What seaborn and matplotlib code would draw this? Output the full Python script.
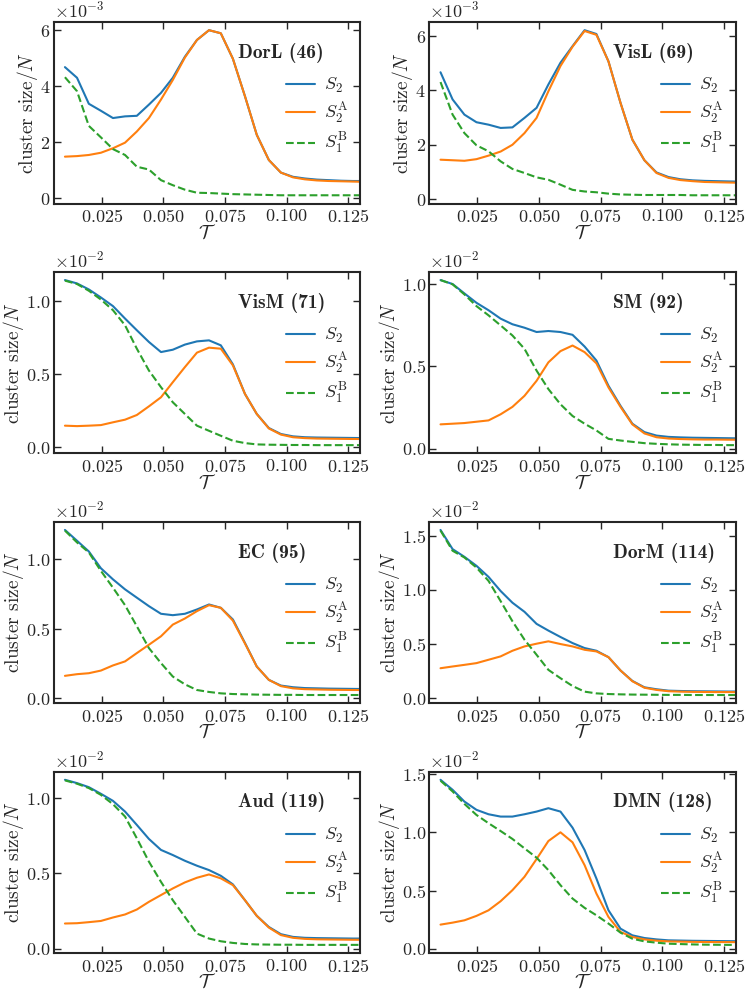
import matplotlib
matplotlib.use("Agg")
import matplotlib.pyplot as plt
import matplotlib.ticker as mticker
import seaborn as sns
import numpy as np
import pandas as pd

# temperature grid (last point lies past the visible limit)
T = [0.0100, 0.0149, 0.0197, 0.0246, 0.0295, 0.0344, 0.0392, 0.0441, 0.0490,
     0.0538, 0.0587, 0.0636, 0.0685, 0.0733, 0.0782, 0.0831, 0.0879, 0.0928,
     0.0977, 0.1026, 0.1074, 0.1123, 0.1172, 0.1221, 0.1269, 0.1318]

networks = ["DorL (46)", "VisL (69)", "VisM (71)", "SM (92)",
            "EC (95)", "DorM (114)", "Aud (119)", "DMN (128)"]
scales = [1e-3, 1e-3, 1e-2, 1e-2, 1e-2, 1e-2, 1e-2, 1e-2]

S2 = [
    [4.68, 4.30, 3.37, 3.12, 2.86, 2.92, 2.94, 3.34, 3.76, 4.30, 5.05, 5.65, 6.00,
     5.89, 4.98, 3.64, 2.26, 1.36, 0.91, 0.76, 0.70, 0.66, 0.64, 0.62, 0.61, 0.61],
    [4.67, 3.67, 3.11, 2.83, 2.74, 2.62, 2.64, 2.99, 3.36, 4.22, 5.02, 5.63, 6.22,
     6.08, 5.07, 3.54, 2.19, 1.43, 0.98, 0.81, 0.73, 0.69, 0.67, 0.66, 0.65, 0.64],
    [1.144, 1.121, 1.080, 1.025, 0.966, 0.881, 0.801, 0.721, 0.652, 0.668, 0.703,
     0.725, 0.732, 0.698, 0.568, 0.366, 0.229, 0.133, 0.092, 0.076, 0.070, 0.068,
     0.067, 0.066, 0.065, 0.064],
    [1.024, 1.000, 0.943, 0.886, 0.841, 0.790, 0.756, 0.735, 0.709, 0.715, 0.709,
     0.692, 0.621, 0.536, 0.383, 0.261, 0.153, 0.102, 0.081, 0.073, 0.070, 0.068,
     0.067, 0.066, 0.065, 0.064],
    [1.213, 1.135, 1.058, 0.937, 0.857, 0.785, 0.725, 0.664, 0.609, 0.599, 0.609,
     0.640, 0.676, 0.652, 0.568, 0.399, 0.229, 0.133, 0.092, 0.080, 0.074, 0.072,
     0.070, 0.069, 0.068, 0.067],
    [1.553, 1.376, 1.305, 1.222, 1.120, 0.990, 0.882, 0.798, 0.687, 0.625, 0.566,
     0.510, 0.464, 0.439, 0.380, 0.257, 0.161, 0.102, 0.084, 0.071, 0.068, 0.066,
     0.065, 0.064, 0.063, 0.063],
    [1.122, 1.100, 1.073, 1.029, 0.982, 0.911, 0.822, 0.729, 0.656, 0.622, 0.584,
     0.551, 0.522, 0.484, 0.427, 0.322, 0.218, 0.144, 0.096, 0.078, 0.072, 0.070,
     0.069, 0.068, 0.067, 0.067],
    [1.451, 1.365, 1.264, 1.193, 1.155, 1.135, 1.135, 1.155, 1.178, 1.207, 1.178,
     1.040, 0.848, 0.603, 0.330, 0.172, 0.115, 0.092, 0.080, 0.072, 0.070, 0.068,
     0.067, 0.066, 0.065, 0.064],
]

S2A = [
    [1.48, 1.50, 1.54, 1.62, 1.78, 1.98, 2.38, 2.86, 3.52, 4.22, 5.02, 5.65, 6.00,
     5.89, 4.98, 3.64, 2.26, 1.36, 0.91, 0.74, 0.67, 0.63, 0.61, 0.60, 0.59, 0.58],
    [1.45, 1.43, 1.41, 1.47, 1.60, 1.75, 2.00, 2.43, 2.99, 3.97, 4.90, 5.61, 6.19,
     6.05, 5.07, 3.54, 2.19, 1.43, 0.96, 0.78, 0.70, 0.66, 0.63, 0.62, 0.61, 0.60],
    [0.149, 0.146, 0.149, 0.153, 0.172, 0.190, 0.222, 0.281, 0.343, 0.446, 0.549,
     0.648, 0.682, 0.675, 0.561, 0.366, 0.229, 0.130, 0.088, 0.070, 0.064, 0.061,
     0.060, 0.059, 0.058, 0.058],
    [0.149, 0.153, 0.157, 0.165, 0.173, 0.210, 0.255, 0.322, 0.413, 0.525, 0.593,
     0.627, 0.587, 0.519, 0.373, 0.255, 0.149, 0.094, 0.071, 0.063, 0.060, 0.058,
     0.057, 0.057, 0.056, 0.056],
    [0.162, 0.174, 0.181, 0.200, 0.237, 0.266, 0.326, 0.386, 0.447, 0.531, 0.575,
     0.628, 0.671, 0.652, 0.560, 0.395, 0.229, 0.133, 0.088, 0.072, 0.066, 0.064,
     0.062, 0.061, 0.060, 0.060],
    [0.278, 0.294, 0.309, 0.325, 0.356, 0.387, 0.439, 0.479, 0.504, 0.526, 0.501,
     0.479, 0.448, 0.433, 0.380, 0.257, 0.158, 0.098, 0.078, 0.066, 0.062, 0.060,
     0.059, 0.058, 0.058, 0.057],
    [0.167, 0.169, 0.176, 0.184, 0.207, 0.227, 0.260, 0.311, 0.356, 0.400, 0.440,
     0.471, 0.493, 0.467, 0.422, 0.322, 0.218, 0.140, 0.090, 0.072, 0.065, 0.062,
     0.061, 0.060, 0.059, 0.059],
    [0.207, 0.224, 0.244, 0.282, 0.330, 0.408, 0.503, 0.618, 0.770, 0.925, 1.000,
     0.914, 0.718, 0.474, 0.273, 0.144, 0.101, 0.080, 0.069, 0.063, 0.061, 0.059,
     0.058, 0.057, 0.057, 0.056],
]

S1B = [
    [4.32, 3.82, 2.58, 2.17, 1.75, 1.54, 1.12, 1.02, 0.64, 0.46, 0.30, 0.19, 0.18,
     0.16, 0.14, 0.13, 0.12, 0.11, 0.10, 0.10, 0.10, 0.10, 0.10, 0.10, 0.10, 0.10],
    [4.31, 3.11, 2.43, 1.98, 1.76, 1.39, 1.11, 0.96, 0.80, 0.71, 0.53, 0.34, 0.28,
     0.25, 0.20, 0.17, 0.16, 0.15, 0.15, 0.15, 0.15, 0.14, 0.14, 0.14, 0.14, 0.14],
    [1.140, 1.117, 1.071, 1.011, 0.938, 0.835, 0.675, 0.526, 0.412, 0.309, 0.229,
     0.149, 0.114, 0.080, 0.046, 0.030, 0.021, 0.019, 0.018, 0.017, 0.017, 0.016,
     0.016, 0.016, 0.016, 0.016],
    [1.024, 0.998, 0.937, 0.866, 0.810, 0.749, 0.688, 0.607, 0.475, 0.363, 0.271,
     0.200, 0.153, 0.112, 0.061, 0.051, 0.043, 0.035, 0.031, 0.028, 0.026, 0.025,
     0.024, 0.024, 0.023, 0.023],
    [1.208, 1.123, 1.051, 0.918, 0.797, 0.671, 0.519, 0.362, 0.254, 0.157, 0.101,
     0.060, 0.046, 0.036, 0.031, 0.029, 0.027, 0.026, 0.025, 0.025, 0.024, 0.024,
     0.024, 0.024, 0.024, 0.024],
    [1.547, 1.361, 1.299, 1.206, 1.083, 0.897, 0.711, 0.541, 0.402, 0.263, 0.186,
     0.114, 0.062, 0.046, 0.040, 0.037, 0.035, 0.034, 0.033, 0.032, 0.032, 0.031,
     0.031, 0.031, 0.031, 0.031],
    [1.118, 1.096, 1.067, 1.022, 0.960, 0.878, 0.733, 0.578, 0.444, 0.322, 0.211,
     0.100, 0.067, 0.049, 0.038, 0.031, 0.028, 0.027, 0.026, 0.026, 0.025, 0.025,
     0.025, 0.025, 0.025, 0.025],
    [1.443, 1.351, 1.244, 1.149, 1.078, 1.011, 0.943, 0.862, 0.782, 0.675, 0.546,
     0.431, 0.351, 0.287, 0.216, 0.138, 0.086, 0.063, 0.052, 0.043, 0.040, 0.037,
     0.035, 0.034, 0.033, 0.033],
]

sns.set_style("ticks")
plt.rcParams["font.family"] = "serif"
plt.rcParams["font.serif"] = ["cmr10"]
plt.rcParams["mathtext.fontset"] = "cm"
plt.rcParams["axes.formatter.use_mathtext"] = True
plt.rcParams["axes.unicode_minus"] = False

blue, orange, green = "#1f77b4", "#ff7f0e", "#2ca02c"

fig, axes = plt.subplots(4, 2, figsize=(7.48, 9.97), dpi=100)
fig.subplots_adjust(left=0.072, right=0.984, top=0.978, bottom=0.044,
                    wspace=0.225, hspace=0.376)

for i, ax in enumerate(axes.flat):
    sc = scales[i]
    df = pd.DataFrame({"T": T,
                       "S2": np.array(S2[i]) * sc,
                       "S2A": np.array(S2A[i]) * sc,
                       "S1B": np.array(S1B[i]) * sc})
    sns.lineplot(data=df, x="T", y="S2", ax=ax, color=blue, lw=1.5,
                 label=r"$S_2$")
    sns.lineplot(data=df, x="T", y="S2A", ax=ax, color=orange, lw=1.5,
                 label=r"$S_2^{\rm A}$")
    sns.lineplot(data=df, x="T", y="S1B", ax=ax, color=green, lw=1.5,
                 ls="--", label=r"$S_1^{\rm B}$")

    ax.set_xlim(0.0055, 0.13)
    ax.xaxis.set_major_locator(mticker.MultipleLocator(0.025))
    ax.yaxis.set_major_locator(mticker.MultipleLocator(2 * sc if sc == 1e-3 else 0.5 * sc))
    fmt = mticker.ScalarFormatter(useMathText=True)
    fmt.set_powerlimits((0, 0))
    ax.yaxis.set_major_formatter(fmt)

    ax.tick_params(direction="in", top=True, right=True, length=5, width=1,
                   labelsize=13)
    ax.tick_params(axis="y", pad=2.5)
    ax.yaxis.get_offset_text().set_fontsize(13)
    for sp in ax.spines.values():
        sp.set_linewidth(1.5)

    ax.set_xlabel(r"$\mathcal{T}$", fontsize=14, labelpad=-1)
    ax.set_ylabel(r"cluster size$/N$", fontsize=14, labelpad=0)

    ax.text(0.6, 0.83, networks[i], transform=ax.transAxes, family="cmb10",
            ha="left", va="center", fontsize=14)

    ax.legend(loc="center right", bbox_to_anchor=(1.0, 0.48), frameon=False,
              fontsize=13, handlelength=1.6, labelspacing=0.3, borderaxespad=0.3,
              handletextpad=0.5)

fig.savefig("out.png", dpi=100)
